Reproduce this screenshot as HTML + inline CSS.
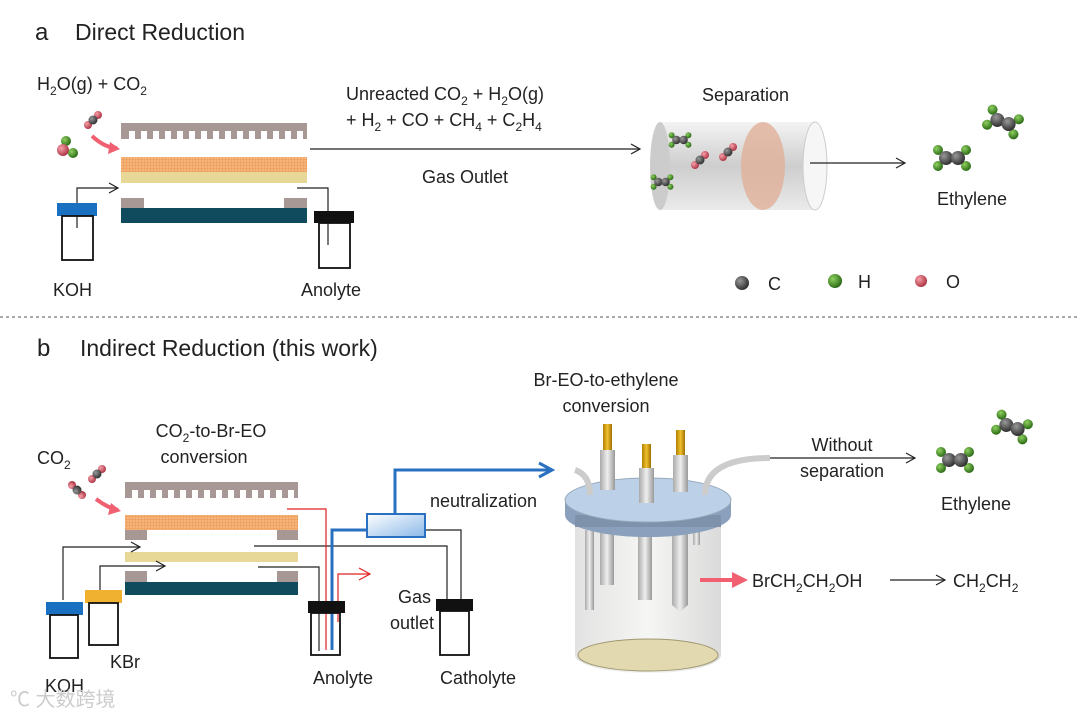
<!DOCTYPE html>
<html><head><meta charset="utf-8"><style>
html,body{margin:0;padding:0;background:#fff}
svg{display:block;font-family:"Liberation Sans",Arial,sans-serif}
</style></head><body>
<svg width="1080" height="720" viewBox="0 0 1080 720" xmlns="http://www.w3.org/2000/svg">
<defs>
<radialGradient id="gC" cx="35%" cy="35%" r="65%"><stop offset="0" stop-color="#999"/><stop offset="1" stop-color="#333"/></radialGradient>
<radialGradient id="gH" cx="35%" cy="35%" r="65%"><stop offset="0" stop-color="#8fd060"/><stop offset="1" stop-color="#2e6e18"/></radialGradient>
<radialGradient id="gO" cx="35%" cy="35%" r="65%"><stop offset="0" stop-color="#f5a0a8"/><stop offset="1" stop-color="#b03848"/></radialGradient>
<linearGradient id="cyl" x1="0" y1="0" x2="0" y2="1"><stop offset="0" stop-color="#f2f2f2"/><stop offset=".5" stop-color="#c8c8c8"/><stop offset="1" stop-color="#e8e8e8"/></linearGradient>
<linearGradient id="boxb" x1="0" y1="0" x2="1" y2="1"><stop offset="0" stop-color="#ffffff"/><stop offset="1" stop-color="#8ab8e8"/></linearGradient>
<linearGradient id="body" x1="0" y1="0" x2="1" y2="0"><stop offset="0" stop-color="#ddd"/><stop offset=".5" stop-color="#f4f4f2"/><stop offset="1" stop-color="#d4d4d4"/></linearGradient>
<linearGradient id="rod" x1="0" y1="0" x2="1" y2="0"><stop offset="0" stop-color="#aaa"/><stop offset=".5" stop-color="#eee"/><stop offset="1" stop-color="#999"/></linearGradient>
<linearGradient id="gold" x1="0" y1="0" x2="1" y2="0"><stop offset="0" stop-color="#b08000"/><stop offset=".5" stop-color="#f0c030"/><stop offset="1" stop-color="#a07000"/></linearGradient>
<pattern id="mesh" width="3" height="3" patternUnits="userSpaceOnUse"><rect width="3" height="3" fill="#f6b478"/><path d="M0 0H3M0 0V3" stroke="#e89050" stroke-width=".8"/></pattern>
<g id="eth">
<circle cx="-14" cy="-8" r="5" fill="url(#gH)"/><circle cx="-14" cy="8" r="5" fill="url(#gH)"/>
<circle cx="14" cy="-8" r="5" fill="url(#gH)"/><circle cx="14" cy="8" r="5" fill="url(#gH)"/>
<circle cx="-6" cy="0" r="7" fill="url(#gC)"/><circle cx="6" cy="0" r="7" fill="url(#gC)"/>
</g>
<g id="co2"><circle cx="-5" cy="5" r="4" fill="url(#gO)"/><circle cx="5" cy="-5" r="4" fill="url(#gO)"/><circle cx="0" cy="0" r="4.5" fill="url(#gC)"/></g>
<marker id="ah" markerWidth="12" markerHeight="12" refX="10" refY="6" orient="auto" markerUnits="userSpaceOnUse"><path d="M1 1L10 6L1 11" fill="none" stroke="#222" stroke-width="1.2"/></marker>
<marker id="ahr" markerWidth="14" markerHeight="14" refX="12" refY="7" orient="auto" markerUnits="userSpaceOnUse"><path d="M1 1L12 7L1 13" fill="none" stroke="#e02020" stroke-width="1.2"/></marker>
<marker id="ahb" markerWidth="18" markerHeight="18" refX="15" refY="9" orient="auto" markerUnits="userSpaceOnUse"><path d="M2 2L15 9L2 16" fill="none" stroke="#2a70c0" stroke-width="3"/></marker>
</defs>

<!-- ===== a ===== -->
<text x="35" y="40" font-size="24" fill="#222">a</text>
<text x="75" y="40" font-size="23" fill="#222">Direct Reduction</text>
<text x="37" y="90" font-size="18" fill="#222">H<tspan font-size="12" dy="5">2</tspan><tspan dy="-5">O(g) + CO</tspan><tspan font-size="12" dy="5">2</tspan></text>
<use href="#co2" x="93" y="120"/>
<circle cx="66" cy="141" r="5" fill="url(#gH)"/><circle cx="63" cy="150" r="6" fill="url(#gO)"/><circle cx="73" cy="153" r="5" fill="url(#gH)"/>
<path d="M92 136Q105 148 117 148" fill="none" stroke="#f06070" stroke-width="4"/><path d="M110 142L120 149L108 154Z" fill="#f06070"/>
<!-- cell a -->
<path d="M121 123H307V139H303V131H297V139H291V131H285V139H279V131H273V139H267V131H261V139H255V131H249V139H243V131H237V139H231V131H225V139H219V131H213V139H207V131H201V139H195V131H189V139H183V131H177V139H171V131H165V139H159V131H153V139H147V131H141V139H135V131H129V139H121Z" fill="#a89895"/>
<rect x="121" y="157" width="186" height="15" fill="url(#mesh)"/>
<rect x="121" y="172" width="186" height="11" fill="#e8d898"/>
<rect x="121" y="198" width="23" height="10" fill="#a89895"/><rect x="284" y="198" width="23" height="10" fill="#a89895"/>
<rect x="121" y="208" width="186" height="15" fill="#0f4b5c"/>
<path d="M77 228V188H118" fill="none" stroke="#222" stroke-width="1.2" marker-end="url(#ah)"/>
<path d="M297 188H328V245" fill="none" stroke="#222" stroke-width="1.2"/>
<rect x="57" y="203" width="40" height="13" fill="#1a70c0"/>
<rect x="62" y="216" width="31" height="44" fill="none" stroke="#111" stroke-width="1.8"/>
<rect x="314" y="211" width="40" height="12" fill="#111"/>
<rect x="319" y="223" width="31" height="45" fill="none" stroke="#111" stroke-width="1.8"/>
<text x="53" y="296" font-size="18" fill="#222">KOH</text>
<text x="301" y="296" font-size="18" fill="#222">Anolyte</text>
<path d="M310 149H640" stroke="#222" stroke-width="1.2" marker-end="url(#ah)"/>
<text x="346" y="100" font-size="18" fill="#222">Unreacted CO<tspan font-size="12" dy="5">2</tspan><tspan dy="-5"> + H</tspan><tspan font-size="12" dy="5">2</tspan><tspan dy="-5">O(g)</tspan></text>
<text x="346" y="126" font-size="18" fill="#222">+ H<tspan font-size="12" dy="5">2</tspan><tspan dy="-5"> + CO + CH</tspan><tspan font-size="12" dy="5">4</tspan><tspan dy="-5"> + C</tspan><tspan font-size="12" dy="5">2</tspan><tspan dy="-5">H</tspan><tspan font-size="12" dy="5">4</tspan></text>
<text x="422" y="183" font-size="18" fill="#222">Gas Outlet</text>
<text x="702" y="101" font-size="18" fill="#222">Separation</text>
<!-- cylinder -->
<rect x="660" y="122" width="155" height="88" fill="url(#cyl)" opacity=".9"/>
<ellipse cx="660" cy="166" rx="10" ry="44" fill="#ccc"/>
<ellipse cx="815" cy="166" rx="12" ry="44" fill="#f6f6f6" stroke="#ccc"/>
<ellipse cx="763" cy="166" rx="22" ry="44" fill="#e0b098" opacity=".8"/>
<use href="#eth" x="680" y="140" transform="scale(.6)" transform-origin="680 140"/>
<use href="#eth" x="662" y="182" transform="scale(.6)" transform-origin="662 182"/>
<use href="#eth" x="727" y="187" transform="rotate(60 727 187) scale(.55)" transform-origin="727 187"/>
<use href="#eth" x="812" y="186" transform="rotate(60 812 186) scale(.55)" transform-origin="812 186"/>
<use href="#co2" x="700" y="160"/><use href="#co2" x="728" y="152"/>
<path d="M810 163H905" stroke="#222" stroke-width="1.2" marker-end="url(#ah)"/>
<use href="#eth" x="952" y="158"/>
<use href="#eth" x="1003" y="122" transform="rotate(20 1003 122)"/>
<text x="937" y="205" font-size="18" fill="#222">Ethylene</text>
<circle cx="742" cy="283" r="7" fill="url(#gC)"/><text x="768" y="290" font-size="18" fill="#222">C</text>
<circle cx="835" cy="281" r="7" fill="url(#gH)"/><text x="858" y="288" font-size="18" fill="#222">H</text>
<circle cx="921" cy="281" r="6" fill="url(#gO)"/><text x="946" y="288" font-size="18" fill="#222">O</text>
<line x1="0" y1="317" x2="1080" y2="317" stroke="#555" stroke-width="1" stroke-dasharray="3,3"/>

<!-- ===== b ===== -->
<text x="37" y="356" font-size="24" fill="#222">b</text>
<text x="80" y="356" font-size="23" fill="#222">Indirect Reduction (this work)</text>
<text x="37" y="464" font-size="18" fill="#222">CO<tspan font-size="12" dy="5">2</tspan></text>
<text x="211" y="437" font-size="18" fill="#222" text-anchor="middle">CO<tspan font-size="12" dy="5">2</tspan><tspan dy="-5">-to-Br-EO</tspan></text>
<text x="204" y="463" font-size="18" fill="#222" text-anchor="middle">conversion</text>
<use href="#co2" x="97" y="474"/><use href="#co2" x="77" y="490" transform="rotate(-90 77 490)"/>
<path d="M96 499Q108 508 118 510" fill="none" stroke="#f06070" stroke-width="4"/><path d="M111 503L121 511L108 515Z" fill="#f06070"/>
<path d="M125 482H298V498H294V490H288V498H282V490H276V498H270V490H264V498H258V490H252V498H246V490H240V498H234V490H228V498H222V490H216V498H210V490H204V498H198V490H192V498H186V490H180V498H174V490H168V498H162V490H156V498H150V490H144V498H138V490H132V498H125Z" fill="#a89895"/>
<rect x="125" y="515" width="173" height="15" fill="url(#mesh)"/>
<rect x="125" y="530" width="22" height="10" fill="#a89895"/><rect x="277" y="530" width="21" height="10" fill="#a89895"/>
<rect x="125" y="552" width="173" height="10" fill="#e8d898"/>
<rect x="125" y="571" width="22" height="11" fill="#a89895"/><rect x="277" y="571" width="21" height="11" fill="#a89895"/>
<rect x="125" y="582" width="173" height="13" fill="#0f4b5c"/>
<path d="M63 600V547H140" fill="none" stroke="#222" stroke-width="1.2" marker-end="url(#ah)"/>
<path d="M100 595V566H165" fill="none" stroke="#222" stroke-width="1.2" marker-end="url(#ah)"/>
<path d="M254 546H447V603" fill="none" stroke="#222" stroke-width="1.2"/>
<path d="M258 567H319V651" fill="none" stroke="#222" stroke-width="1.2"/>
<path d="M287 509H326V650" fill="none" stroke="#e02020" stroke-width="1.2"/>
<path d="M338 622V574H370" fill="none" stroke="#e02020" stroke-width="1.2" marker-end="url(#ahr)"/>
<path d="M332 650V530H367" fill="none" stroke="#2a70c0" stroke-width="3"/>
<path d="M395 514V470H552" fill="none" stroke="#2a70c0" stroke-width="3" marker-end="url(#ahb)"/>
<path d="M425 530H461V603" fill="none" stroke="#222" stroke-width="1.2"/>
<rect x="367" y="514" width="58" height="23" fill="url(#boxb)" stroke="#2a70c0" stroke-width="2"/>
<rect x="46" y="602" width="37" height="13" fill="#1a70c0"/>
<rect x="50" y="615" width="28" height="43" fill="none" stroke="#111" stroke-width="1.8"/>
<rect x="85" y="590" width="37" height="13" fill="#f0b030"/>
<rect x="89" y="603" width="29" height="42" fill="none" stroke="#111" stroke-width="1.8"/>
<rect x="308" y="601" width="37" height="12" fill="#111"/>
<rect x="311" y="613" width="29" height="42" fill="none" stroke="#111" stroke-width="1.8"/>
<rect x="436" y="599" width="37" height="12" fill="#111"/>
<rect x="440" y="611" width="29" height="44" fill="none" stroke="#111" stroke-width="1.8"/>
<text x="430" y="507" font-size="18" fill="#222">neutralization</text>
<text x="398" y="603" font-size="18" fill="#222">Gas</text>
<text x="390" y="629" font-size="18" fill="#222">outlet</text>
<text x="313" y="684" font-size="18" fill="#222">Anolyte</text>
<text x="440" y="684" font-size="18" fill="#222">Catholyte</text>
<text x="45" y="692" font-size="18" fill="#222">KOH</text>
<text x="110" y="668" font-size="18" fill="#222">KBr</text>
<text x="10" y="706" font-size="20" fill="#ccc">℃ 大数跨境</text>
<!-- reactor -->
<text x="606" y="386" font-size="18" fill="#222" text-anchor="middle">Br-EO-to-ethylene</text>
<text x="606" y="412" font-size="18" fill="#222" text-anchor="middle">conversion</text>
<path d="M575 525V655A73 18 0 0 0 721 655V525Z" fill="url(#body)" opacity=".85"/>
<ellipse cx="648" cy="655" rx="70" ry="16" fill="#e2d9b0" stroke="#a09870"/>
<rect x="585" y="530" width="9" height="80" fill="url(#rod)"/>
<rect x="600" y="530" width="14" height="55" fill="url(#rod)"/>
<rect x="638" y="530" width="14" height="70" fill="url(#rod)"/>
<path d="M672 530V605L680 612L688 605V530Z" fill="url(#rod)"/>
<rect x="693" y="530" width="7" height="15" fill="url(#rod)"/>
<path d="M565 500V515A83 22 0 0 0 731 515V500Z" fill="#8aa0bc"/>
<rect x="575" y="515" width="146" height="12" fill="#7f92ac"/>
<ellipse cx="648" cy="500" rx="83" ry="22" fill="#bcd0e8" stroke="#9ab"/>
<path d="M575 470Q590 475 590 495" fill="none" stroke="#ccc" stroke-width="6"/>
<path d="M705 495Q705 458 770 458" fill="none" stroke="#ccc" stroke-width="6"/>
<rect x="600" y="450" width="15" height="40" fill="url(#rod)"/><rect x="603" y="424" width="9" height="26" fill="url(#gold)"/>
<rect x="639" y="468" width="15" height="35" fill="url(#rod)"/><rect x="642" y="444" width="9" height="24" fill="url(#gold)"/>
<rect x="673" y="455" width="15" height="37" fill="url(#rod)"/><rect x="676" y="430" width="9" height="25" fill="url(#gold)"/>
<path d="M770 458H915" stroke="#222" stroke-width="1.2" marker-end="url(#ah)"/>
<text x="842" y="451" font-size="18" fill="#222" text-anchor="middle">Without</text>
<text x="842" y="477" font-size="18" fill="#222" text-anchor="middle">separation</text>
<use href="#eth" x="955" y="460"/>
<use href="#eth" x="1012" y="427" transform="rotate(20 1012 427)"/>
<text x="941" y="510" font-size="18" fill="#222">Ethylene</text>
<path d="M700 580H735" stroke="#f06070" stroke-width="4"/><path d="M732 572L748 580L732 588Z" fill="#f06070"/>
<text x="752" y="587" font-size="18" fill="#222">BrCH<tspan font-size="12" dy="5">2</tspan><tspan dy="-5">CH</tspan><tspan font-size="12" dy="5">2</tspan><tspan dy="-5">OH</tspan></text>
<path d="M890 580H945" stroke="#222" stroke-width="1.2" marker-end="url(#ah)"/>
<text x="953" y="587" font-size="18" fill="#222">CH<tspan font-size="12" dy="5">2</tspan><tspan dy="-5">CH</tspan><tspan font-size="12" dy="5">2</tspan></text>
</svg>
</body></html>
